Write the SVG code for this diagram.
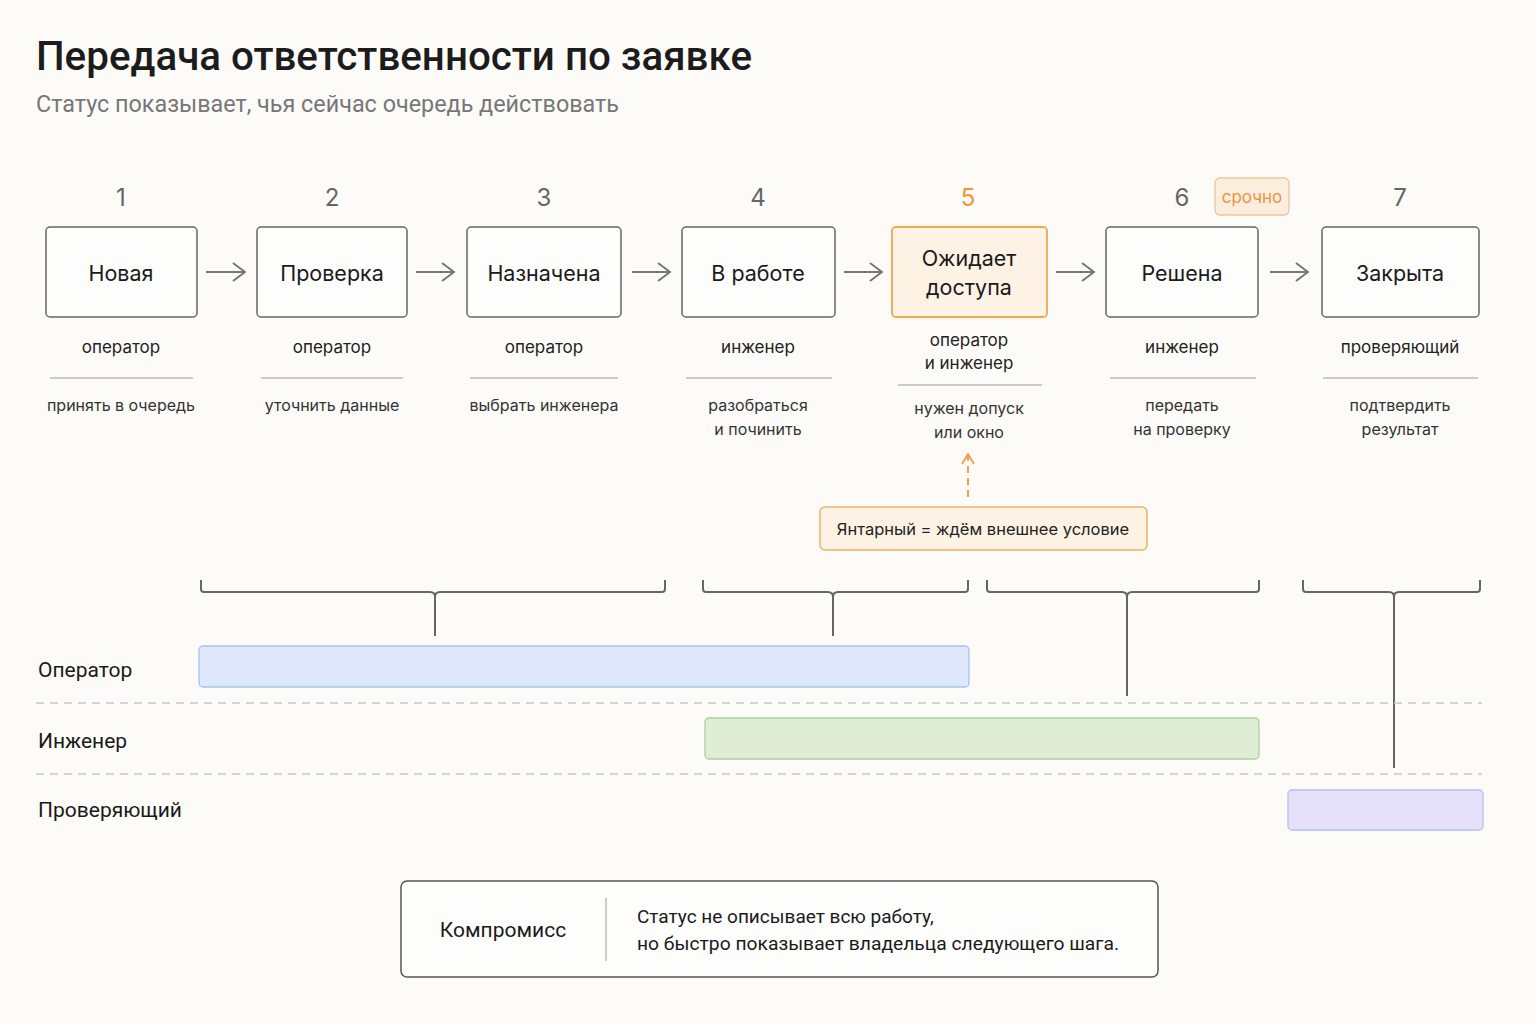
<svg xmlns="http://www.w3.org/2000/svg" width="1536" height="1024" viewBox="0 0 1536 1024">
<defs>
<style>
text{font-family:Inter,"Noto Sans","DejaVu Sans",sans-serif;}
.title{font-size:40px;font-weight:500;fill:#1c1c1c;font-family:Roboto,"Liberation Sans",sans-serif;}
.sub{font-size:23px;fill:#777;font-family:Roboto,"Liberation Sans",sans-serif;}
.num{font-size:24px;fill:#666;text-anchor:middle;}
.box{fill:#fdfdfc;stroke:#666;stroke-width:1.5;}
.lbl{font-size:21.5px;fill:#1a1a1a;text-anchor:middle;}
.role{font-size:17px;fill:#222;text-anchor:middle;}
.task{font-size:16px;fill:#333;text-anchor:middle;}
.sep{stroke:#999;stroke-width:1.2;}
.arr{stroke:#777;stroke-width:2;fill:none;}
.brace{stroke:#666;stroke-width:2;fill:none;}
.lane{font-size:21px;fill:#1a1a1a;font-family:Roboto,"Liberation Sans",sans-serif;}
.dash{stroke:#c8c8c8;stroke-width:1.5;stroke-dasharray:8 6;}
</style>
<marker id="ah" viewBox="0 0 14 20" refX="13" refY="10" markerWidth="14" markerHeight="20" markerUnits="userSpaceOnUse" orient="auto">
<path d="M1 1 L13 10 L1 19" fill="none" stroke="#777" stroke-width="2"/>
</marker>
<marker id="aho" viewBox="0 0 12 14" refX="11" refY="7" markerWidth="12" markerHeight="14" markerUnits="userSpaceOnUse" orient="auto">
<path d="M1 1 L11 7 L1 13" fill="none" stroke="#f0a050" stroke-width="2"/>
</marker>
</defs>
<rect width="1536" height="1024" fill="#fcfbf8"/>
<text class="title" x="36" y="70" textLength="716" lengthAdjust="spacingAndGlyphs">Передача ответственности по заявке</text>
<text class="sub" x="36" y="112" textLength="583" lengthAdjust="spacingAndGlyphs">Статус показывает, чья сейчас очередь действовать</text>

<g id="n1"><text class="num" x="121" y="206">1</text><rect class="box" x="46" y="227" width="151" height="90" rx="4"/><text class="lbl" x="121" y="281">Новая</text><text class="role" x="121" y="353">оператор</text><line class="sep" x1="50" y1="378" x2="193" y2="378"/><text class="task" x="121" y="411">принять в очередь</text></g>
<g id="n2"><text class="num" x="332" y="206">2</text><rect class="box" x="257" y="227" width="150" height="90" rx="4"/><text class="lbl" x="332" y="281">Проверка</text><text class="role" x="332" y="353">оператор</text><line class="sep" x1="261" y1="378" x2="403" y2="378"/><text class="task" x="332" y="411">уточнить данные</text></g>
<g id="n3"><text class="num" x="544" y="206">3</text><rect class="box" x="467" y="227" width="154" height="90" rx="4"/><text class="lbl" x="544" y="281">Назначена</text><text class="role" x="544" y="353">оператор</text><line class="sep" x1="470" y1="378" x2="618" y2="378"/><text class="task" x="544" y="411">выбрать инженера</text></g>
<g id="n4"><text class="num" x="758" y="206">4</text><rect class="box" x="682" y="227" width="153" height="90" rx="4"/><text class="lbl" x="758" y="281">В работе</text><text class="role" x="758" y="353">инженер</text><line class="sep" x1="686" y1="378" x2="832" y2="378"/><text class="task" x="758" y="411">разобраться</text><text class="task" x="758" y="435">и починить</text></g>
<g id="n5"><text class="num" x="968" y="206" style="fill:#f0963a">5</text><rect x="892" y="227" width="155" height="90" rx="4" fill="#fdf2e4" stroke="#f0a750" stroke-width="1.8"/><text class="lbl" x="969" y="266">Ожидает</text><text class="lbl" x="969" y="295">доступа</text><text class="role" x="969" y="346">оператор</text><text class="role" x="969" y="369">и инженер</text><line class="sep" x1="898" y1="385" x2="1042" y2="385"/><text class="task" x="969" y="414">нужен допуск</text><text class="task" x="969" y="438">или окно</text></g>
<g id="n6"><text class="num" x="1182" y="206">6</text><rect class="box" x="1106" y="227" width="152" height="90" rx="4"/><text class="lbl" x="1182" y="281">Решена</text><text class="role" x="1182" y="353">инженер</text><line class="sep" x1="1110" y1="378" x2="1256" y2="378"/><text class="task" x="1182" y="411">передать</text><text class="task" x="1182" y="435">на проверку</text></g>
<g id="badge"><rect x="1215" y="178" width="74" height="37" rx="5" fill="#fbeedf" stroke="#f1c598" stroke-width="1.3"/><text x="1252" y="203" text-anchor="middle" style="font-size:17px;fill:#ef9240">срочно</text></g>
<g id="n7"><text class="num" x="1400" y="206">7</text><rect class="box" x="1322" y="227" width="157" height="90" rx="4"/><text class="lbl" x="1400" y="281">Закрыта</text><text class="role" x="1400" y="353">проверяющий</text><line class="sep" x1="1323" y1="378" x2="1478" y2="378"/><text class="task" x="1400" y="411">подтвердить</text><text class="task" x="1400" y="435">результат</text></g>

<g id="callout"><rect x="820" y="507" width="327" height="43" rx="5" fill="#fdf3e4" stroke="#f0b262" stroke-width="1.5"/><text x="983" y="535" text-anchor="middle" style="font-size:16.5px;fill:#222">Янтарный = ждём внешнее условие</text></g>

<g id="connectors">
<line class="arr" x1="206" y1="272" x2="245" y2="272" marker-end="url(#ah)"/>
<line class="arr" x1="416" y1="272" x2="454" y2="272" marker-end="url(#ah)"/>
<line class="arr" x1="632" y1="272" x2="670" y2="272" marker-end="url(#ah)"/>
<line class="arr" x1="844" y1="272" x2="882" y2="272" marker-end="url(#ah)"/>
<line class="arr" x1="1056" y1="272" x2="1094" y2="272" marker-end="url(#ah)"/>
<line class="arr" x1="1270" y1="272" x2="1308" y2="272" marker-end="url(#ah)"/>
<line x1="968" y1="497" x2="968" y2="454" stroke="#f0a050" stroke-width="2" stroke-dasharray="7 5" marker-end="url(#aho)"/>
<path class="brace" d="M201 580 V589 Q201 592 204 592 H430 Q435 592 435 597 V636 M435 597 Q435 592 440 592 H662 Q665 592 665 589 V580"/>
<path class="brace" d="M703 580 V589 Q703 592 706 592 H828 Q833 592 833 597 V636 M833 597 Q833 592 838 592 H965 Q968 592 968 589 V580"/>
<path class="brace" d="M987 580 V589 Q987 592 990 592 H1122 Q1127 592 1127 597 V696 M1127 597 Q1127 592 1132 592 H1256 Q1259 592 1259 589 V580"/>
<path class="brace" d="M1303 580 V589 Q1303 592 1306 592 H1389 Q1394 592 1394 597 V768 M1394 597 Q1394 592 1399 592 H1477 Q1480 592 1480 589 V580"/>
</g>

<g id="lanes">
<text class="lane" x="38" y="677">Оператор</text>
<rect x="199" y="646" width="770" height="41" rx="4" fill="#dde9fb" stroke="#a8c3ee" stroke-width="1.3"/>
<line class="dash" x1="36" y1="703" x2="1482" y2="703"/>
<text class="lane" x="38" y="748">Инженер</text>
<rect x="705" y="718" width="554" height="41" rx="4" fill="#deedd4" stroke="#a9d29a" stroke-width="1.3"/>
<line class="dash" x1="36" y1="774" x2="1482" y2="774"/>
<text class="lane" x="38" y="817">Проверяющий</text>
<rect x="1288" y="790" width="195" height="40" rx="4" fill="#e6e1fb" stroke="#b3c2ee" stroke-width="1.3"/>
</g>

<g id="note">
<rect x="401" y="881" width="757" height="96" rx="6" fill="#fdfdfc" stroke="#555" stroke-width="1.5"/>
<text x="503" y="937" text-anchor="middle" style="font-size:21px;fill:#1a1a1a;font-family:Roboto,'Liberation Sans',sans-serif">Компромисс</text>
<line x1="606" y1="898" x2="606" y2="961" stroke="#bbb" stroke-width="1.5"/>
<text x="637" y="923" style="font-size:19px;fill:#1a1a1a;font-family:Roboto,'Liberation Sans',sans-serif">Статус не описывает всю работу,</text>
<text x="637" y="950" style="font-size:19px;fill:#1a1a1a;font-family:Roboto,'Liberation Sans',sans-serif" textLength="482" lengthAdjust="spacingAndGlyphs">но быстро показывает владельца следующего шага.</text>
</g>
</svg>
